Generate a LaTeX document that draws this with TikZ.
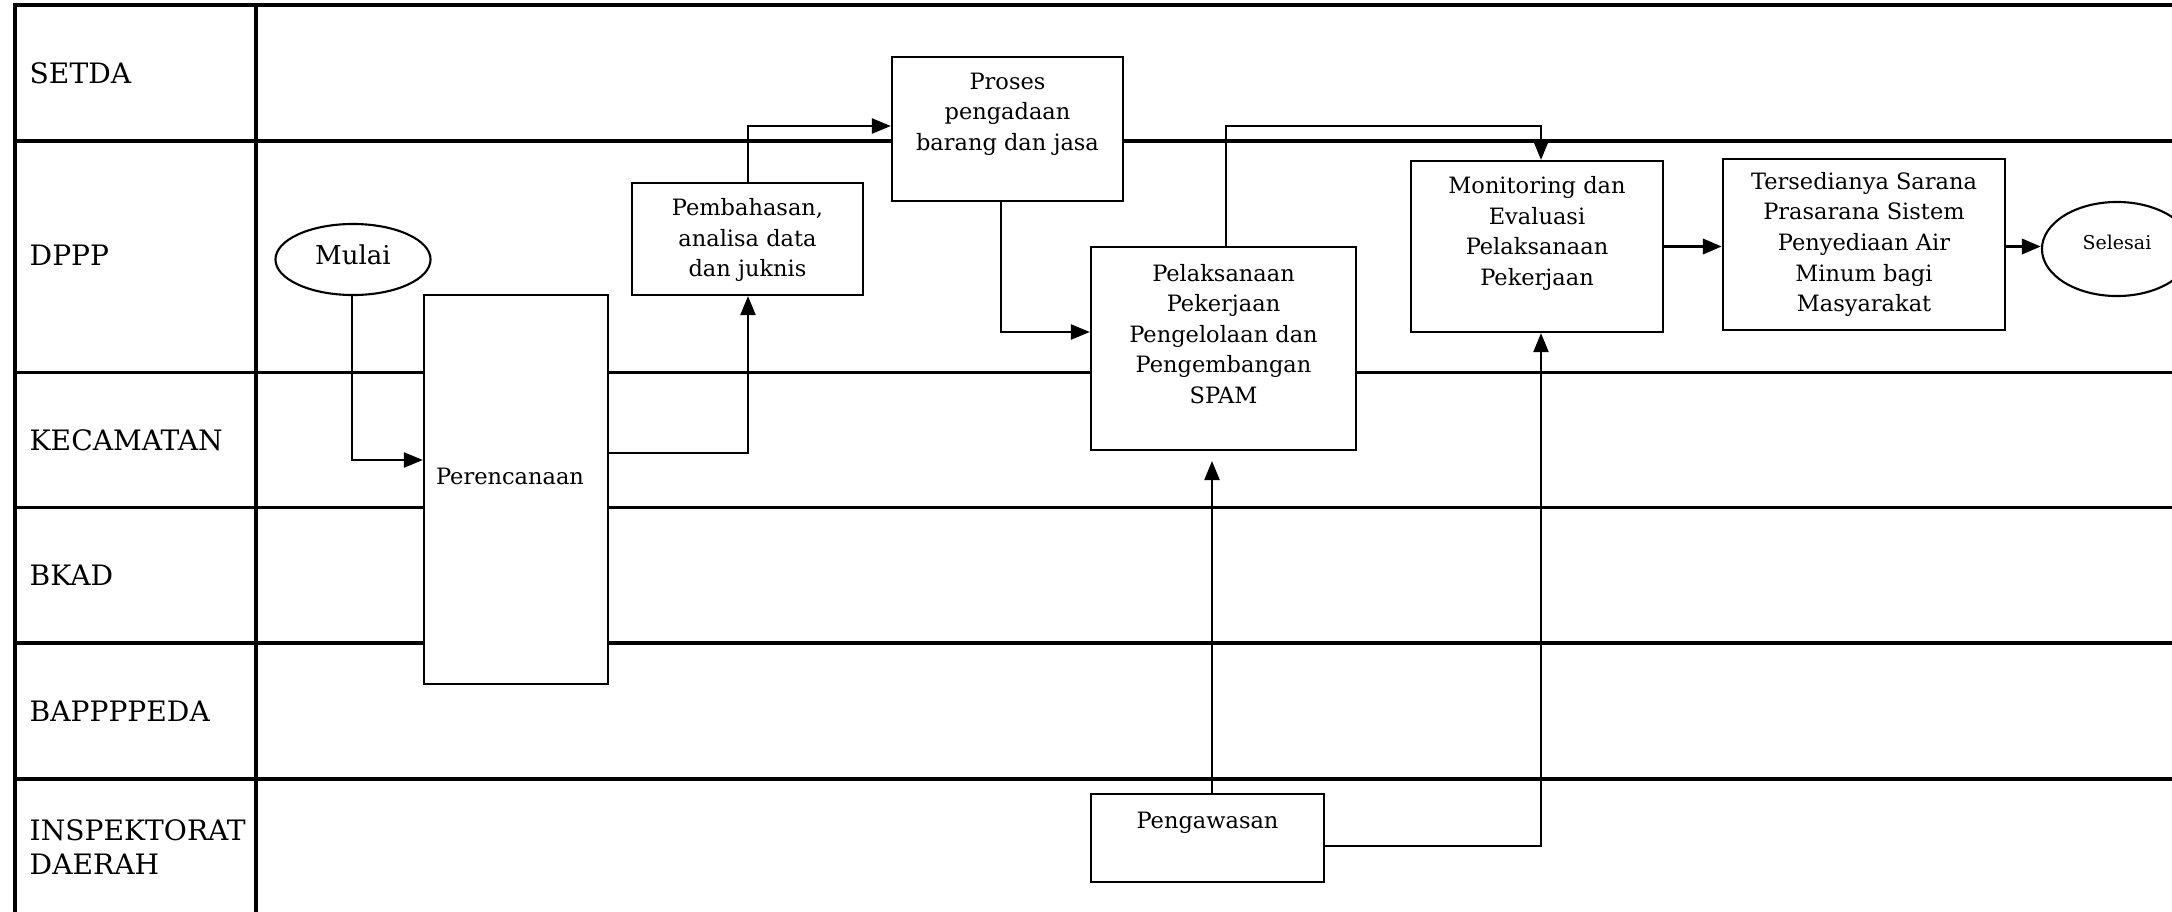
\documentclass[tikz,border=0pt]{standalone}
\usepackage{fontspec}
\setmainfont{DejaVu Serif}
\usetikzlibrary{arrows.meta,shapes.geometric}
\begin{document}
\begin{tikzpicture}[x=0.01cm,y=-0.01cm,
  lane/.style={line width=0.95pt},
  box/.style={draw, fill=white, line width=0.6pt, inner sep=0pt},
  oval/.style={box, ellipse},
  boxtext/.style={font=\fontsize{6.4}{8.7}\selectfont, align=center, inner sep=0pt},
  lanetext/.style={font=\fontsize{8}{9.7}\selectfont, align=left, anchor=west, inner sep=0pt},
  flow/.style={line width=0.65pt, -{Triangle[length=0.19cm,width=0.15cm]}},
  flowthick/.style={flow, line width=1pt},
  ]
\useasboundingbox (0,0) rectangle (2172,912);
\clip (0,0) rectangle (2172,912);

% swimlane grid
\draw[lane] (15,912) -- (15,5) -- (2180,5);
\draw[lane] (256,5) -- (256,912);
\foreach \y in {141,372.6,507.5,643,779}
  \draw[lane] (15,\y) -- (2180,\y);

% lane titles
\node[lanetext] (lsetda) at (29,73) {SETDA};
\node[lanetext] (ldppp) at (29,255) {DPPP};
\node[lanetext] (lkec) at (29,440) {KECAMATAN};
\node[lanetext] (lbkad) at (29,575) {BKAD};
\node[lanetext] (lbap) at (29,711) {BAPPPPEDA};
\node[lanetext] (linsp) at (29,847) {INSPEKTORAT\\DAERAH};

% process boxes
\node[oval, minimum width=1.55cm, minimum height=0.71cm] (mulai) at (353,259.5) {};
\node[box, minimum width=1.84cm, minimum height=3.89cm] (perenc) at (516,489.5) {};
\node[box, minimum width=2.31cm, minimum height=1.12cm] (pembah) at (747.5,239) {};
\node[box, minimum width=2.31cm, minimum height=1.44cm] (proses) at (1007.5,129) {};
\node[box, minimum width=2.65cm, minimum height=2.03cm] (pelaks) at (1223.5,348.5) {};
\node[box, minimum width=2.52cm, minimum height=1.71cm] (monit) at (1537,246.5) {};
\node[box, minimum width=2.82cm, minimum height=1.71cm] (tersed) at (1864,244.5) {};
\node[box, minimum width=2.33cm, minimum height=0.88cm] (pengaw) at (1207.5,838) {};
\node[oval, minimum width=1.50cm, minimum height=0.94cm] (selesai) at (2117,249) {};

% box texts
\node[lanetext, anchor=center, font=\fontsize{7.4}{9}\selectfont] (tmulai) at (353,255) {Mulai};
\node[boxtext] (tperenc) at (510,476) {Perencanaan};
\node[boxtext] (tpembah) at (747.5,240) {Pembahasan,\\analisa data\\dan juknis};
\node[boxtext] (tproses) at (1007.5,114) {Proses\\pengadaan\\barang dan jasa};
\node[boxtext] (tpelaks) at (1223.5,334) {Pelaksanaan\\Pekerjaan\\Pengelolaan dan\\Pengembangan\\SPAM};
\node[boxtext] (tmonit) at (1537,233.5) {Monitoring dan\\Evaluasi\\Pelaksanaan\\Pekerjaan};
\node[boxtext] (ttersed) at (1864,244.5) {Tersedianya Sarana\\Prasarana Sistem\\Penyediaan Air\\Minum bagi\\Masyarakat};
\node[boxtext] (tpengaw) at (1207.5,823) {Pengawasan};
\node[boxtext, font=\fontsize{5.4}{7}\selectfont] (tselesai) at (2117,242) {Selesai};

% connector bends
\coordinate (c1) at (352,460);
\coordinate (c2) at (748,453);
\coordinate (c3) at (748,126);
\coordinate (c4) at (1001,332);
\coordinate (c5) at (1226,126);
\coordinate (c8) at (1212,461);
\coordinate (c9) at (1541,846);

% flow
\draw[flow] (c1 |- mulai.south) -- (c1) -- (c1 -| perenc.west);
\draw[flow] (perenc.east |- c2) -- (c2) -- (c2 |- pembah.south);
\draw[flow] (c3 |- pembah.north) -- (c3) -- (c3 -| proses.west);
\draw[flow] (c4 |- proses.south) -- (c4) -- (c4 -| pelaks.west);
\draw[flow] (c5 |- pelaks.north) -- (c5) -| (c9 |- monit.north);
\draw[flowthick] (monit.east) -- (tersed.west |- monit.east);
\draw[flowthick] (tersed.east |- monit.east) -- (selesai.west |- monit.east);
\draw[flow] (c8 |- pengaw.north) -- (c8);
\draw[flow] (pengaw.east |- c9) -- (c9) -- (c9 |- monit.south);
\end{tikzpicture}
\end{document}
